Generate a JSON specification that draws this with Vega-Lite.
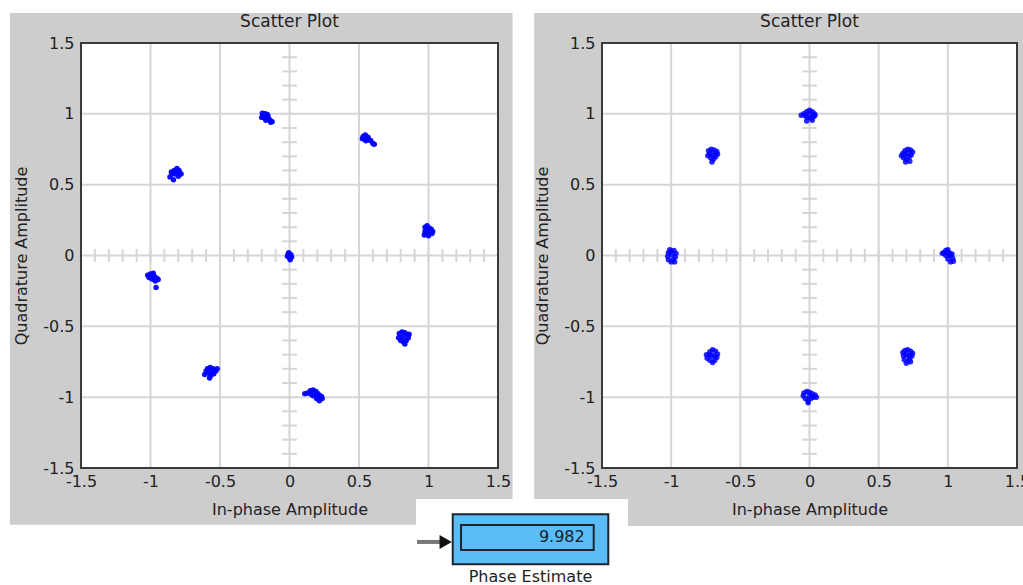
{
  "$schema": "https://vega.github.io/schema/vega-lite/v6.json",
  "padding": {"left": 9, "top": 12, "right": 0, "bottom": 0},
  "background": "white",
  "spacing": 104,
  "bounds": "flush",
  "config": {
    "view": {"stroke": null},
    "font": "DejaVu Sans",
    "axis": {"zindex": 1, "grid": false, "ticks": false, "domain": false, "labelFont": "DejaVu Sans", "labelFontSize": 16, "labelColor": "#222222", "titleFont": "DejaVu Sans", "titleFontSize": 16, "titleFontWeight": "normal", "titleColor": "#222222", "labelFlush": false, "labelOverlap": false},
    "axisX": {"labelPadding": 5, "titlePadding": 12},
    "axisY": {"labelPadding": 7, "titlePadding": 13}
  },
  "datasets": {
    "phase": [{"label": "Phase Estimate", "value": 9.982}],
    "grid": [{"v": -1}, {"v": -0.5}, {"v": 0}, {"v": 0.5}, {"v": 1}],
    "minor": [{"m": -1.4}, {"m": -1.3}, {"m": -1.2}, {"m": -1.1}, {"m": -1.0}, {"m": -0.9}, {"m": -0.8}, {"m": -0.7}, {"m": -0.6}, {"m": -0.5}, {"m": -0.4}, {"m": -0.3}, {"m": -0.2}, {"m": -0.1}, {"m": 0.1}, {"m": 0.2}, {"m": 0.3}, {"m": 0.4}, {"m": 0.5}, {"m": 0.6}, {"m": 0.7}, {"m": 0.8}, {"m": 0.9}, {"m": 1.0}, {"m": 1.1}, {"m": 1.2}, {"m": 1.3}, {"m": 1.4}],
    "left": [
      {"i": -0.19, "q": 0.99}, {"i": -0.175, "q": 1.0}, {"i": -0.16, "q": 0.995}, {"i": -0.2, "q": 0.975}, {"i": -0.18, "q": 0.97}, {"i": -0.165, "q": 0.98}, {"i": -0.15, "q": 0.965}, {"i": -0.14, "q": 0.955}, {"i": -0.125, "q": 0.945}, {"i": -0.135, "q": 0.94}, {"i": -0.195, "q": 1.005}, {"i": -0.17, "q": 0.955}, {"i": -0.155, "q": 0.985},
      {"i": 0.53, "q": 0.84}, {"i": 0.545, "q": 0.85}, {"i": 0.555, "q": 0.83}, {"i": 0.54, "q": 0.82}, {"i": 0.565, "q": 0.835}, {"i": 0.575, "q": 0.815}, {"i": 0.525, "q": 0.825}, {"i": 0.585, "q": 0.81}, {"i": 0.6, "q": 0.79}, {"i": 0.61, "q": 0.785}, {"i": 0.55, "q": 0.81},
      {"i": -0.85, "q": 0.59}, {"i": -0.83, "q": 0.6}, {"i": -0.81, "q": 0.615}, {"i": -0.795, "q": 0.6}, {"i": -0.78, "q": 0.575}, {"i": -0.8, "q": 0.56}, {"i": -0.82, "q": 0.575}, {"i": -0.845, "q": 0.575}, {"i": -0.86, "q": 0.555}, {"i": -0.835, "q": 0.535}, {"i": -0.79, "q": 0.585}, {"i": -0.815, "q": 0.595},
      {"i": 0.975, "q": 0.2}, {"i": 0.99, "q": 0.21}, {"i": 1.005, "q": 0.195}, {"i": 1.02, "q": 0.185}, {"i": 1.03, "q": 0.17}, {"i": 1.01, "q": 0.165}, {"i": 0.99, "q": 0.155}, {"i": 0.97, "q": 0.145}, {"i": 0.975, "q": 0.17}, {"i": 1.0, "q": 0.14}, {"i": 1.025, "q": 0.155}, {"i": 0.985, "q": 0.185},
      {"i": -0.01, "q": 0.01}, {"i": 0.01, "q": 0.005}, {"i": 0.0, "q": -0.015}, {"i": -0.015, "q": -0.005}, {"i": 0.015, "q": -0.01}, {"i": 0.005, "q": -0.03}, {"i": -0.005, "q": 0.02},
      {"i": -1.02, "q": -0.14}, {"i": -1.0, "q": -0.13}, {"i": -0.985, "q": -0.14}, {"i": -0.97, "q": -0.15}, {"i": -0.955, "q": -0.16}, {"i": -0.975, "q": -0.17}, {"i": -0.99, "q": -0.165}, {"i": -1.01, "q": -0.155}, {"i": -0.965, "q": -0.18}, {"i": -0.96, "q": -0.225}, {"i": -0.98, "q": -0.125}, {"i": -0.945, "q": -0.17},
      {"i": 0.79, "q": -0.55}, {"i": 0.81, "q": -0.54}, {"i": 0.83, "q": -0.545}, {"i": 0.845, "q": -0.56}, {"i": 0.855, "q": -0.58}, {"i": 0.84, "q": -0.6}, {"i": 0.82, "q": -0.61}, {"i": 0.8, "q": -0.6}, {"i": 0.785, "q": -0.58}, {"i": 0.815, "q": -0.575}, {"i": 0.83, "q": -0.625}, {"i": 0.86, "q": -0.555},
      {"i": -0.59, "q": -0.8}, {"i": -0.57, "q": -0.79}, {"i": -0.55, "q": -0.8}, {"i": -0.53, "q": -0.815}, {"i": -0.545, "q": -0.835}, {"i": -0.565, "q": -0.845}, {"i": -0.585, "q": -0.83}, {"i": -0.61, "q": -0.84}, {"i": -0.575, "q": -0.865}, {"i": -0.555, "q": -0.82}, {"i": -0.52, "q": -0.8}, {"i": -0.6, "q": -0.815},
      {"i": 0.13, "q": -0.97}, {"i": 0.15, "q": -0.955}, {"i": 0.17, "q": -0.95}, {"i": 0.19, "q": -0.96}, {"i": 0.205, "q": -0.975}, {"i": 0.22, "q": -0.99}, {"i": 0.235, "q": -1.01}, {"i": 0.215, "q": -1.025}, {"i": 0.195, "q": -1.01}, {"i": 0.17, "q": -0.99}, {"i": 0.155, "q": -0.98}, {"i": 0.19, "q": -0.985}, {"i": 0.11, "q": -0.975}, {"i": 0.23, "q": -0.995}
    ],
    "right": [
      {"i": -0.06, "q": 0.99}, {"i": -0.04, "q": 1.0}, {"i": -0.02, "q": 1.015}, {"i": 0.0, "q": 1.025}, {"i": 0.02, "q": 1.015}, {"i": 0.035, "q": 1.0}, {"i": 0.03, "q": 0.98}, {"i": 0.01, "q": 0.97}, {"i": -0.015, "q": 0.975}, {"i": -0.03, "q": 0.985}, {"i": 0.0, "q": 0.995}, {"i": 0.02, "q": 0.955}, {"i": -0.02, "q": 0.95}, {"i": 0.04, "q": 0.99},
      {"i": 0.69, "q": 0.74}, {"i": 0.71, "q": 0.75}, {"i": 0.73, "q": 0.745}, {"i": 0.745, "q": 0.73}, {"i": 0.735, "q": 0.71}, {"i": 0.72, "q": 0.695}, {"i": 0.7, "q": 0.68}, {"i": 0.68, "q": 0.69}, {"i": 0.665, "q": 0.705}, {"i": 0.69, "q": 0.715}, {"i": 0.71, "q": 0.72}, {"i": 0.725, "q": 0.665}, {"i": 0.695, "q": 0.66}, {"i": 0.675, "q": 0.72},
      {"i": 0.97, "q": 0.02}, {"i": 0.985, "q": 0.035}, {"i": 1.0, "q": 0.04}, {"i": 1.01, "q": 0.02}, {"i": 1.02, "q": 0.0}, {"i": 1.035, "q": -0.02}, {"i": 1.04, "q": -0.04}, {"i": 1.02, "q": -0.045}, {"i": 1.0, "q": -0.025}, {"i": 0.985, "q": 0.0}, {"i": 0.96, "q": 0.015}, {"i": 1.005, "q": 0.005}, {"i": 1.03, "q": 0.01},
      {"i": 0.69, "q": -0.67}, {"i": 0.71, "q": -0.665}, {"i": 0.73, "q": -0.675}, {"i": 0.745, "q": -0.69}, {"i": 0.74, "q": -0.71}, {"i": 0.725, "q": -0.725}, {"i": 0.715, "q": -0.745}, {"i": 0.7, "q": -0.76}, {"i": 0.685, "q": -0.735}, {"i": 0.68, "q": -0.71}, {"i": 0.7, "q": -0.7}, {"i": 0.72, "q": -0.705}, {"i": 0.73, "q": -0.75}, {"i": 0.675, "q": -0.685},
      {"i": -0.04, "q": -0.97}, {"i": -0.02, "q": -0.96}, {"i": 0.0, "q": -0.965}, {"i": 0.02, "q": -0.975}, {"i": 0.04, "q": -0.985}, {"i": 0.05, "q": -1.0}, {"i": 0.03, "q": -1.0}, {"i": 0.01, "q": -1.01}, {"i": -0.01, "q": -1.025}, {"i": -0.03, "q": -1.01}, {"i": -0.045, "q": -0.99}, {"i": 0.0, "q": -0.99}, {"i": -0.01, "q": -1.04},
      {"i": -0.72, "q": -0.68}, {"i": -0.7, "q": -0.665}, {"i": -0.68, "q": -0.675}, {"i": -0.665, "q": -0.695}, {"i": -0.67, "q": -0.72}, {"i": -0.685, "q": -0.74}, {"i": -0.7, "q": -0.755}, {"i": -0.72, "q": -0.74}, {"i": -0.74, "q": -0.725}, {"i": -0.745, "q": -0.7}, {"i": -0.71, "q": -0.705}, {"i": -0.69, "q": -0.71}, {"i": -0.725, "q": -0.7},
      {"i": -1.02, "q": 0.02}, {"i": -1.0, "q": 0.03}, {"i": -0.98, "q": 0.035}, {"i": -0.965, "q": 0.015}, {"i": -0.97, "q": -0.01}, {"i": -0.985, "q": -0.03}, {"i": -1.0, "q": -0.045}, {"i": -1.02, "q": -0.03}, {"i": -1.025, "q": -0.005}, {"i": -0.995, "q": 0.005}, {"i": -0.975, "q": -0.045}, {"i": -1.01, "q": 0.04},
      {"i": -0.73, "q": 0.74}, {"i": -0.71, "q": 0.75}, {"i": -0.69, "q": 0.745}, {"i": -0.67, "q": 0.735}, {"i": -0.665, "q": 0.715}, {"i": -0.68, "q": 0.695}, {"i": -0.695, "q": 0.68}, {"i": -0.715, "q": 0.69}, {"i": -0.735, "q": 0.705}, {"i": -0.72, "q": 0.72}, {"i": -0.7, "q": 0.71}, {"i": -0.68, "q": 0.72}, {"i": -0.705, "q": 0.66}
    ]
  },
  "hconcat": [
    {
      "width": 417,
      "height": 425,
      "data": {"name": "phase"},
      "layer": [
        {"mark": {"type": "rect", "fill": "#cdcdcd"},
         "encoding": {
           "x": {"datum": -2.011, "type": "quantitative", "scale": {"domain": [-1.5, 1.5], "nice": false, "zero": false}},
           "x2": {"datum": 1.605},
           "y": {"datum": -1.9, "type": "quantitative", "scale": {"domain": [-1.5, 1.5], "nice": false, "zero": false}},
           "y2": {"datum": 1.712}}},
        {"mark": {"type": "rect", "fill": "white"},
         "encoding": {
           "x": {"datum": -1.5, "type": "quantitative", "scale": {"domain": [-1.5, 1.5], "nice": false, "zero": false}},
           "x2": {"datum": 1.5},
           "y": {"datum": -1.5, "type": "quantitative", "scale": {"domain": [-1.5, 1.5], "nice": false, "zero": false}},
           "y2": {"datum": 1.5}}},
        {"data": {"name": "grid"}, "mark": {"type": "rule", "color": "#d6d6d6", "strokeWidth": 2},
         "encoding": {
           "x": {"field": "v", "type": "quantitative", "scale": {"domain": [-1.5, 1.5], "nice": false, "zero": false}},
           "y": {"datum": -1.5, "type": "quantitative", "scale": {"domain": [-1.5, 1.5], "nice": false, "zero": false}},
           "y2": {"datum": 1.5}}},
        {"data": {"name": "grid"}, "mark": {"type": "rule", "color": "#d6d6d6", "strokeWidth": 2},
         "encoding": {
           "y": {"field": "v", "type": "quantitative", "scale": {"domain": [-1.5, 1.5], "nice": false, "zero": false}},
           "x": {"datum": -1.5, "type": "quantitative", "scale": {"domain": [-1.5, 1.5], "nice": false, "zero": false}},
           "x2": {"datum": 1.5}}},
        {"data": {"name": "minor"}, "mark": {"type": "rule", "color": "#d6d6d6", "strokeWidth": 2},
         "encoding": {
           "x": {"field": "m", "type": "quantitative", "scale": {"domain": [-1.5, 1.5], "nice": false, "zero": false}},
           "y": {"datum": -0.047, "type": "quantitative", "scale": {"domain": [-1.5, 1.5], "nice": false, "zero": false}},
           "y2": {"datum": 0.047}}},
        {"data": {"name": "minor"}, "mark": {"type": "rule", "color": "#d6d6d6", "strokeWidth": 2},
         "encoding": {
           "y": {"field": "m", "type": "quantitative", "scale": {"domain": [-1.5, 1.5], "nice": false, "zero": false}},
           "x": {"datum": -0.053, "type": "quantitative", "scale": {"domain": [-1.5, 1.5], "nice": false, "zero": false}},
           "x2": {"datum": 0.053}}},
        {"data": {"name": "left"}, "mark": {"type": "point", "filled": true, "shape": "circle", "size": 30, "color": "#0000ff", "opacity": 0.95},
         "encoding": {
           "x": {"field": "i", "type": "quantitative", "scale": {"domain": [-1.5, 1.5], "nice": false, "zero": false},
                 "axis": {"title": "In-phase Amplitude", "zindex": 2, "values": [-1.5, -1, -0.5, 0, 0.5, 1, 1.5], "labelExpr": "'' + datum.value"}},
           "y": {"field": "q", "type": "quantitative", "scale": {"domain": [-1.5, 1.5], "nice": false, "zero": false},
                 "axis": {"title": "Quadrature Amplitude", "zindex": 2, "values": [-1.5, -1, -0.5, 0, 0.5, 1, 1.5], "labelExpr": "'' + datum.value"}}}},
        {"mark": {"type": "rect", "fill": null, "stroke": "#3a3a3a", "strokeWidth": 2},
         "encoding": {
           "x": {"datum": -1.5, "type": "quantitative", "scale": {"domain": [-1.5, 1.5], "nice": false, "zero": false}},
           "x2": {"datum": 1.5},
           "y": {"datum": -1.5, "type": "quantitative", "scale": {"domain": [-1.5, 1.5], "nice": false, "zero": false}},
           "y2": {"datum": 1.5}}},
        {"mark": {"type": "text", "align": "center", "baseline": "middle", "font": "DejaVu Sans", "fontSize": 17, "color": "#222222"},
         "encoding": {
           "text": {"value": "Scatter Plot"},
           "x": {"datum": 0, "type": "quantitative", "scale": {"domain": [-1.5, 1.5], "nice": false, "zero": false}},
           "y": {"datum": 1.645, "type": "quantitative", "scale": {"domain": [-1.5, 1.5], "nice": false, "zero": false}}}}
      ]
    },
    {
      "width": 415,
      "height": 425,
      "data": {"name": "phase"},
      "layer": [
        {"mark": {"type": "rect", "fill": "#cdcdcd"},
         "encoding": {
           "x": {"datum": -1.99, "type": "quantitative", "scale": {"domain": [-1.5, 1.5], "nice": false, "zero": false}},
           "x2": {"datum": 1.551},
           "y": {"datum": -1.91, "type": "quantitative", "scale": {"domain": [-1.5, 1.5], "nice": false, "zero": false}},
           "y2": {"datum": 1.712}}},
        {"mark": {"type": "rect", "fill": "white"},
         "encoding": {
           "x": {"datum": -1.5, "type": "quantitative", "scale": {"domain": [-1.5, 1.5], "nice": false, "zero": false}},
           "x2": {"datum": 1.5},
           "y": {"datum": -1.5, "type": "quantitative", "scale": {"domain": [-1.5, 1.5], "nice": false, "zero": false}},
           "y2": {"datum": 1.5}}},
        {"data": {"name": "grid"}, "mark": {"type": "rule", "color": "#d6d6d6", "strokeWidth": 2},
         "encoding": {
           "x": {"field": "v", "type": "quantitative", "scale": {"domain": [-1.5, 1.5], "nice": false, "zero": false}},
           "y": {"datum": -1.5, "type": "quantitative", "scale": {"domain": [-1.5, 1.5], "nice": false, "zero": false}},
           "y2": {"datum": 1.5}}},
        {"data": {"name": "grid"}, "mark": {"type": "rule", "color": "#d6d6d6", "strokeWidth": 2},
         "encoding": {
           "y": {"field": "v", "type": "quantitative", "scale": {"domain": [-1.5, 1.5], "nice": false, "zero": false}},
           "x": {"datum": -1.5, "type": "quantitative", "scale": {"domain": [-1.5, 1.5], "nice": false, "zero": false}},
           "x2": {"datum": 1.5}}},
        {"data": {"name": "minor"}, "mark": {"type": "rule", "color": "#d6d6d6", "strokeWidth": 2},
         "encoding": {
           "x": {"field": "m", "type": "quantitative", "scale": {"domain": [-1.5, 1.5], "nice": false, "zero": false}},
           "y": {"datum": -0.047, "type": "quantitative", "scale": {"domain": [-1.5, 1.5], "nice": false, "zero": false}},
           "y2": {"datum": 0.047}}},
        {"data": {"name": "minor"}, "mark": {"type": "rule", "color": "#d6d6d6", "strokeWidth": 2},
         "encoding": {
           "y": {"field": "m", "type": "quantitative", "scale": {"domain": [-1.5, 1.5], "nice": false, "zero": false}},
           "x": {"datum": -0.053, "type": "quantitative", "scale": {"domain": [-1.5, 1.5], "nice": false, "zero": false}},
           "x2": {"datum": 0.053}}},
        {"data": {"name": "right"}, "mark": {"type": "point", "filled": true, "shape": "circle", "size": 30, "color": "#0000ff", "opacity": 0.85},
         "encoding": {
           "x": {"field": "i", "type": "quantitative", "scale": {"domain": [-1.5, 1.5], "nice": false, "zero": false},
                 "axis": {"title": "In-phase Amplitude", "zindex": 2, "values": [-1.5, -1, -0.5, 0, 0.5, 1, 1.5], "labelExpr": "'' + datum.value"}},
           "y": {"field": "q", "type": "quantitative", "scale": {"domain": [-1.5, 1.5], "nice": false, "zero": false},
                 "axis": {"title": "Quadrature Amplitude", "zindex": 2, "values": [-1.5, -1, -0.5, 0, 0.5, 1, 1.5], "labelExpr": "'' + datum.value"}}}},
        {"mark": {"type": "rect", "fill": null, "stroke": "#3a3a3a", "strokeWidth": 2},
         "encoding": {
           "x": {"datum": -1.5, "type": "quantitative", "scale": {"domain": [-1.5, 1.5], "nice": false, "zero": false}},
           "x2": {"datum": 1.5},
           "y": {"datum": -1.5, "type": "quantitative", "scale": {"domain": [-1.5, 1.5], "nice": false, "zero": false}},
           "y2": {"datum": 1.5}}},
        {"mark": {"type": "text", "align": "center", "baseline": "middle", "font": "DejaVu Sans", "fontSize": 17, "color": "#222222"},
         "encoding": {
           "text": {"value": "Scatter Plot"},
           "x": {"datum": 0, "type": "quantitative", "scale": {"domain": [-1.5, 1.5], "nice": false, "zero": false}},
           "y": {"datum": 1.645, "type": "quantitative", "scale": {"domain": [-1.5, 1.5], "nice": false, "zero": false}}}},
        {"mark": {"type": "rect", "fill": "white"},
         "encoding": {
           "x": {"datum": -2.845, "type": "quantitative", "scale": {"domain": [-1.5, 1.5], "nice": false, "zero": false}},
           "x2": {"datum": -1.312},
           "y": {"datum": -1.719, "type": "quantitative", "scale": {"domain": [-1.5, 1.5], "nice": false, "zero": false}},
           "y2": {"datum": -2.333}}},
        {"mark": {"type": "rule", "color": "#777777", "strokeWidth": 4},
         "encoding": {
           "x": {"datum": -2.837, "type": "quantitative", "scale": {"domain": [-1.5, 1.5], "nice": false, "zero": false}},
           "x2": {"datum": -2.66},
           "y": {"datum": -2.022, "type": "quantitative", "scale": {"domain": [-1.5, 1.5], "nice": false, "zero": false}}}},
        {"mark": {"type": "point", "shape": "triangle-right", "filled": true, "color": "#111111", "size": 200, "opacity": 1},
         "encoding": {
           "x": {"datum": -2.63, "type": "quantitative", "scale": {"domain": [-1.5, 1.5], "nice": false, "zero": false}},
           "y": {"datum": -2.022, "type": "quantitative", "scale": {"domain": [-1.5, 1.5], "nice": false, "zero": false}}}},
        {"mark": {"type": "rect", "fill": "#5bbdf8", "stroke": "#1b2530", "strokeWidth": 2},
         "encoding": {
           "x": {"datum": -2.579, "type": "quantitative", "scale": {"domain": [-1.5, 1.5], "nice": false, "zero": false}},
           "x2": {"datum": -1.4545},
           "y": {"datum": -1.827, "type": "quantitative", "scale": {"domain": [-1.5, 1.5], "nice": false, "zero": false}},
           "y2": {"datum": -2.18}}},
        {"mark": {"type": "rect", "fill": "#5bbdf8", "stroke": "#1b2530", "strokeWidth": 2},
         "encoding": {
           "x": {"datum": -2.519, "type": "quantitative", "scale": {"domain": [-1.5, 1.5], "nice": false, "zero": false}},
           "x2": {"datum": -1.56},
           "y": {"datum": -1.902, "type": "quantitative", "scale": {"domain": [-1.5, 1.5], "nice": false, "zero": false}},
           "y2": {"datum": -2.079}}},
        {"mark": {"type": "text", "align": "right", "baseline": "middle", "font": "DejaVu Sans", "fontSize": 16, "color": "#14202c"},
         "encoding": {
           "text": {"field": "value", "type": "quantitative", "format": ".3f"},
           "x": {"datum": -1.625, "type": "quantitative", "scale": {"domain": [-1.5, 1.5], "nice": false, "zero": false}},
           "y": {"datum": -1.99, "type": "quantitative", "scale": {"domain": [-1.5, 1.5], "nice": false, "zero": false}}}},
        {"mark": {"type": "text", "align": "center", "baseline": "alphabetic", "font": "DejaVu Sans", "fontSize": 16, "color": "#222222"},
         "encoding": {
           "text": {"field": "label", "type": "nominal"},
           "x": {"datum": -2.017, "type": "quantitative", "scale": {"domain": [-1.5, 1.5], "nice": false, "zero": false}},
           "y": {"datum": -2.302, "type": "quantitative", "scale": {"domain": [-1.5, 1.5], "nice": false, "zero": false}}}}
      ]
    }
  ]
}
